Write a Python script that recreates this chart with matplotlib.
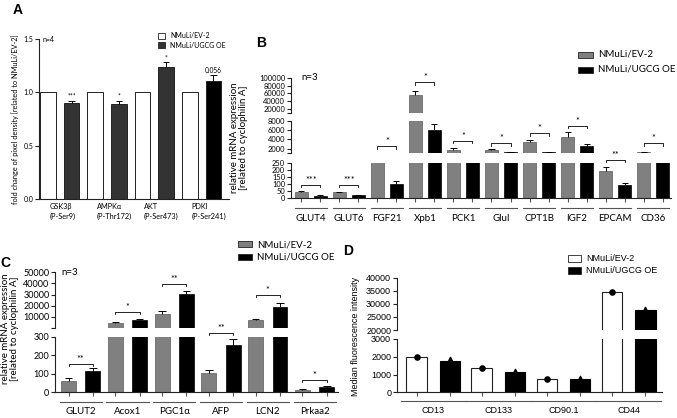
import matplotlib
matplotlib.use('Agg')
import matplotlib.pyplot as plt
from matplotlib.patches import Rectangle

W, H = 677, 418

# ---------------- data ----------------
# A: western blot densitometry
a_groups = ['GSK3β\n(P-Ser9)', 'AMPKα\n(P-Thr172)', 'AKT\n(P-Ser473)', 'PDKI\n(P-Ser241)']
a_ev = [1.0, 1.0, 1.0, 1.0]
a_oe = [0.90, 0.89, 1.24, 1.11]
a_oe_err = [0.02, 0.03, 0.04, 0.05]
a_sig = ['***', '*', '*', '0.056']
a_oe_colors = ['#333333', '#333333', '#333333', '#000000']

# B: qPCR
b_groups = ['GLUT4', 'GLUT6', 'FGF21', 'Xpb1', 'PCK1', 'Glul', 'CPT1B', 'IGF2', 'EPCAM', 'CD36']
b_ev = [47, 44, 1100, 55000, 1730, 1730, 3380, 4580, 197, 1300]
b_ev_err = [3, 3, 80, 11000, 370, 120, 490, 940, 29, 100]
b_oe = [20, 25, 105, 6000, 1050, 1240, 1240, 2580, 95, 1050]
b_oe_err = [3, 3, 18, 1200, 60, 150, 150, 370, 16, 40]
b_sig = ['***', '***', '*', '*', '*', '*', '*', '*', '**', '*']
b_sig_y = [96, 96, 2500, 88000, 3650, 3150, 5300, 6900, 275, 3150]

# C: qPCR
c_groups = ['GLUT2', 'Acox1', 'PGC1α', 'AFP', 'LCN2', 'Prkaa2']
c_ev = [63, 4500, 12900, 103, 6900, 12]
c_ev_err = [13, 400, 2400, 17, 1200, 6]
c_oe = [115, 6900, 30100, 255, 18900, 27]
c_oe_err = [15, 900, 3300, 30, 3900, 9]
c_sig = ['**', '*', '**', '**', '*', '*']
c_sig_y = [153, 14400, 39400, 322, 30000, 66]

# D: flow cytometry
d_groups = ['CD13', 'CD133', 'CD90.1', 'CD44']
d_ev = [2000, 1385, 730, 34400]
d_oe = [1780, 1125, 730, 27650]
d_oe_pts = [1850, 1180, 790, 28200]

LAB = 'Lato'
ARIAL = 'Liberation Sans'

fig = plt.figure(figsize=(W / 100, H / 100), dpi=100)


def px_ax(l, t, r, b):
    ax = fig.add_axes([l / W, 1 - b / H, (r - l) / W, (b - t) / H])
    ax.patch.set_alpha(0)
    return ax


def style(ax, show_x, fs, fam, yticks, ylabels):
    for s in ['top', 'right']:
        ax.spines[s].set_visible(False)
    for s in ['left', 'bottom']:
        ax.spines[s].set_linewidth(0.8)
        ax.spines[s].set_color('#222222')
    if not show_x:
        ax.spines['bottom'].set_visible(False)
        ax.tick_params(axis='x', bottom=False, labelbottom=False)
    ax.set_yticks(yticks)
    ax.set_yticklabels(ylabels, fontsize=fs, family=fam)
    ax.tick_params(axis='y', length=3, width=0.8, pad=1, color='#222222')


def up_err(ax, x, y, e, w=0.07):
    ax.vlines(x, y, y + e, color='k', lw=0.7)
    ax.hlines(y + e, x - w, x + w, color='k', lw=0.7)


def bracket(ax, x0, x1, y, txt, leg, fs):
    ax.plot([x0, x0, x1, x1], [y - leg, y, y, y - leg], color='k', lw=0.6, clip_on=False)
    ax.text((x0 + x1) / 2, y, txt, ha='center', va='bottom', fontsize=fs, clip_on=False,
            family=LAB)


def group_labels(ax, centers, half, labels, hpx, line_dy, text_dy, fs, fam, lcol='#555555'):
    tr = ax.get_xaxis_transform()
    for c, lab in zip(centers, labels):
        ax.plot([c - half, c + half], [-line_dy / hpx] * 2, transform=tr, color=lcol,
                lw=0.8, clip_on=False)
        ax.text(c, -text_dy / hpx, lab, transform=tr, ha='center', va='top', fontsize=fs,
                family=fam)


def legend_px(x, y, w, h, fc, label, fs, fam):
    fig.add_artist(Rectangle((x / W, 1 - (y + h) / H), w / W, h / H, transform=fig.transFigure,
                             facecolor=fc, edgecolor='#222222', lw=0.6))
    fig.text((x + w + 5) / W, 1 - (y + h / 2) / H, label, va='center', ha='left',
             fontsize=fs, family=fam)


# ================= Panel A =================
axA = px_ax(39, 39, 229, 199)
xa = list(range(len(a_groups)))
axA.bar([x - 0.25 for x in xa], a_ev, 0.33, color='white', edgecolor='#222222', lw=0.7)
axA.bar([x + 0.25 for x in xa], a_oe, 0.33, color=a_oe_colors, edgecolor='#222222', lw=0.7)
for x, v, e, s in zip(xa, a_oe, a_oe_err, a_sig):
    up_err(axA, x + 0.25, v, e, 0.07)
    axA.text(x + 0.25, v + e + 0.01, s, ha='center', va='bottom', fontsize=4.8, family=LAB)
axA.set_xlim(-0.44, 3.58)
axA.set_ylim(0, 1.5)
style(axA, True, 5, LAB, [0, 0.5, 1.0, 1.5], ['0.0', '0.5', '1.0', '1.5'])
axA.tick_params(axis='x', bottom=False, labelbottom=False)
for x, lab in zip(xa, a_groups):
    axA.text(x - 0.22, -0.025, lab, transform=axA.get_xaxis_transform(), ha='left', va='top',
             fontsize=5.3, family=LAB, linespacing=1.5)
axA.set_ylabel('fold change of pixel density [related to NMuLi/EV-2]', fontsize=5.3,
               family=LAB, labelpad=3)
axA.text(-0.37, 1.5, 'n=4', fontsize=5, family=LAB, va='center')
legend_px(158, 33, 7, 6, 'white', 'NMuLi/EV-2', 5, LAB)
legend_px(158, 42, 7, 6, '#333333', 'NMuLi/UGCG OE', 5, LAB)
fig.text(13 / W, 1 - 3 / H, 'A', fontsize=10, fontweight='bold', family=ARIAL, va='top')

# ================= Panel B =================
b_segs = [
    (px_ax(290.7, 77.7, 671, 112.9), 10000, 100000, 35.2,
     [10000, 20000, 40000, 60000, 80000, 100000], ['', '20000', '40000', '60000', '80000', '100000']),
    (px_ax(290.7, 120.7, 671, 153.4), 1000, 8000, 32.7,
     [1000, 2000, 4000, 6000, 8000], ['', '2000', '4000', '6000', '8000']),
    (px_ax(290.7, 163.5, 671, 198.5), 0, 250, 35.0,
     [0, 50, 100, 150, 200, 250], ['0', '50', '100', '150', '200', '250']),
]
xb = list(range(len(b_groups)))
for i, (ax, lo, hi, hpx, tk, tl) in enumerate(b_segs):
    ax.bar([x - 0.25 for x in xb], b_ev, 0.35, color='#808080', edgecolor='#5a5a5a', lw=0.5)
    ax.bar([x + 0.25 for x in xb], b_oe, 0.35, color='black', edgecolor='black', lw=0.5)
    for x, v, e in zip(xb, b_ev, b_ev_err):
        up_err(ax, x - 0.25, v, e, 0.08)
    for x, v, e in zip(xb, b_oe, b_oe_err):
        up_err(ax, x + 0.25, v, e, 0.08)
    ax.set_xlim(-0.53, 9.47)
    ax.set_ylim(lo, hi)
    style(ax, i == 2, 5.4, LAB, tk, tl)
for x, s, y in zip(xb, b_sig, b_sig_y):
    seg = 0 if y >= 10000 else (1 if y >= 1000 else 2)
    ax, lo, hi, hpx = b_segs[seg][:4]
    bracket(ax, x - 0.25, x + 0.25, y, s, 2.2 * (hi - lo) / hpx, 6.5)
axB = b_segs[2][0]
axB.set_xticks([x + d for x in xb for d in (-0.25, 0.25)])
axB.tick_params(axis='x', length=3, width=0.8, color='#555555', labelbottom=False)
group_labels(axB, xb, 0.43, b_groups, 35.0, 9.5, 16, 7, LAB)
b_segs[0][0].text(-0.25, 100000, 'n=3', fontsize=7, family=LAB, va='center')
fig.text(239 / W, 1 - 138 / H, 'relative mRNA expression\n[related to cyclophilin A]',
         rotation=90, ha='center', va='center', fontsize=7, family=LAB, linespacing=1.1)
legend_px(578, 51.5, 15, 6, '#808080', 'NMuLi/EV-2', 7, LAB)
legend_px(578, 66.5, 15, 6, 'black', 'NMuLi/UGCG OE', 7, LAB)
fig.text(256 / W, 1 - 36 / H, 'B', fontsize=10, fontweight='bold', family=ARIAL, va='top')

# ================= Panel C =================
c_segs = [
    (px_ax(55, 272.3, 338, 327.5), 300, 50000, 55.2,
     [300, 10000, 20000, 30000, 40000, 50000], ['', '10000', '20000', '30000', '40000', '50000']),
    (px_ax(55, 336.7, 338, 392.3), 0, 300, 55.6,
     [0, 100, 200, 300], ['0', '100', '200', '300']),
]
xc = list(range(len(c_groups)))
for i, (ax, lo, hi, hpx, tk, tl) in enumerate(c_segs):
    ax.bar([x - 0.26 for x in xc], c_ev, 0.32, color='#808080', edgecolor='#5a5a5a', lw=0.5)
    ax.bar([x + 0.26 for x in xc], c_oe, 0.32, color='black', edgecolor='black', lw=0.5)
    for x, v, e in zip(xc, c_ev, c_ev_err):
        up_err(ax, x - 0.26, v, e, 0.08)
    for x, v, e in zip(xc, c_oe, c_oe_err):
        up_err(ax, x + 0.26, v, e, 0.08)
    ax.set_xlim(-0.55, 5.5)
    ax.set_ylim(lo, hi)
    style(ax, i == 1, 6.5, LAB, tk, tl)
for x, s, y in zip(xc, c_sig, c_sig_y):
    seg = 0 if y >= 1000 else 1
    ax, lo, hi, hpx = c_segs[seg][:4]
    bracket(ax, x - 0.26, x + 0.26, y, s, 2.2 * (hi - lo) / hpx, 6.5)
axC = c_segs[1][0]
axC.set_xticks([x + d for x in xc for d in (-0.26, 0.26)])
axC.tick_params(axis='x', length=3, width=0.8, color='#555555', labelbottom=False)
group_labels(axC, xc, 0.45, c_groups, 55.6, 9.7, 15, 7, LAB)
c_segs[0][0].text(-0.42, 50000, 'n=3', fontsize=7, family=LAB, va='center')
fig.text(10 / W, 1 - 329 / H, 'relative mRNA expression\n[related to cyclophilin A]',
         rotation=90, ha='center', va='center', fontsize=7, family=LAB, linespacing=1.1)
legend_px(238, 241.5, 14, 6, '#808080', 'NMuLi/EV-2', 7, LAB)
legend_px(238, 254, 14, 6, 'black', 'NMuLi/UGCG OE', 7, LAB)
fig.text(0 / W, 1 - 256 / H, 'C', fontsize=10, fontweight='bold', family=ARIAL, va='top')

# ================= Panel D =================
d_segs = [
    (px_ax(396.7, 277.7, 662, 330), 20000, 40000, 52.3,
     [20000, 25000, 30000, 35000, 40000], ['20000', '25000', '30000', '35000', '40000']),
    (px_ax(396.7, 339, 662, 392.3), 0, 3000, 53.3,
     [0, 1000, 2000, 3000], ['0', '1000', '2000', '3000']),
]
xd = list(range(len(d_groups)))
for i, (ax, lo, hi, hpx, tk, tl) in enumerate(d_segs):
    ax.bar([x - 0.255 for x in xd], d_ev, 0.315, color='white', edgecolor='#222222', lw=0.8)
    ax.bar([x + 0.255 for x in xd], d_oe, 0.315, color='black', edgecolor='black', lw=0.8)
    ax.scatter([x - 0.255 for x in xd], d_ev, s=14, marker='o', color='black', zorder=3)
    ax.scatter([x + 0.255 for x in xd], d_oe_pts, s=10, marker='^', color='black', zorder=3)
    ax.set_xlim(-0.56, 3.51)
    ax.set_ylim(lo, hi)
    style(ax, i == 1, 6.5, ARIAL, tk, tl)
axD = d_segs[1][0]
axD.set_xticks([x + d for x in xd for d in (-0.255, 0.255)])
axD.tick_params(axis='x', length=3, width=0.8, color='#555555', labelbottom=False)
group_labels(axD, xd, 0.5, d_groups, 53.3, 8.5, 14, 6.5, ARIAL)
fig.text(355 / W, 1 - 336 / H, 'Median fluorescence intensity', rotation=90, ha='center',
         va='center', fontsize=6.5, family=ARIAL)
legend_px(568, 255, 13, 7, 'white', 'NMuLi/EV-2', 6.5, ARIAL)
legend_px(568, 267, 13, 7, 'black', 'NMuLi/UGCG OE', 6.5, ARIAL)
fig.text(343 / W, 1 - 244 / H, 'D', fontsize=10, fontweight='bold', family=ARIAL, va='top')

fig.savefig('out.png', dpi=100)
